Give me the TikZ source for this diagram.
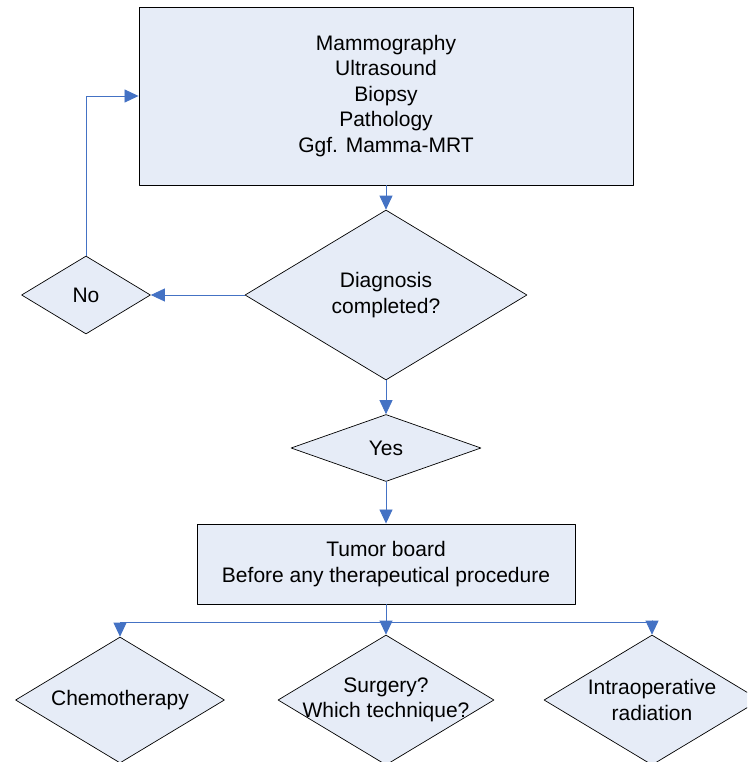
\documentclass[tikz,border=0pt]{standalone}
\usepackage{fontspec}
\setmainfont{Liberation Sans}
\usetikzlibrary{arrows.meta,shapes.geometric}
\definecolor{ebeff8}{rgb}{0.902,0.925,0.969}
\definecolor{qqwwcc}{rgb}{0.267,0.447,0.769}

\begin{document}
\begin{tikzpicture}[line cap=round,line join=round,>={Triangle[length=14pt,width=13pt]},x=1pt,y=-1pt,
  box/.style={draw=black,line width=0.9pt,fill=ebeff8,inner sep=0pt},
  dia/.style={diamond,draw=black,line width=0.7pt,fill=ebeff8,inner sep=0pt},
  txt/.style={align=center,font=\fontsize{21}{25.5}\selectfont},
  flow/.style={->,draw=qqwwcc,line width=0.8pt}]
\clip (0,0) rectangle (747,762);
\useasboundingbox (0,0) rectangle (747,762);
\node[box,txt,minimum width=494pt,minimum height=178pt] (exam) at (386,96) {Mammography\\Ultrasound\\Biopsy\\Pathology\\Ggf. Mamma-MRT};
\node[dia,minimum width=282pt,minimum height=170pt] (diag) at (386,295) {};
\node[txt] (diagtxt) at (diag) {Diagnosis\\completed?};
\node[dia,minimum width=129pt,minimum height=78pt] (no) at (86,295) {};
\node[txt] (notxt) at (no) {No};
\node[dia,minimum width=190pt,minimum height=67pt] (yes) at (386,448) {};
\node[txt] (yestxt) at (yes) {Yes};
\node[box,txt,minimum width=378pt,minimum height=80pt] (board) at (386,564) {Tumor board\\Before any therapeutical procedure};
\node[dia,minimum width=209pt,minimum height=126pt] (chemo) at (120,700) {};
\node[txt] (chemotxt) at (chemo) {Chemotherapy};
\node[dia,minimum width=216pt,minimum height=130pt] (surg) at (386,700) {};
\node[txt] (surgtxt) at (surg) {Surgery?\\Which technique?};
\node[dia,minimum width=216pt,minimum height=130pt] (intra) at (652,700) {};
\node[txt] (intratxt) at (intra) {Intraoperative\\radiation};
\coordinate (bus) at (386,622);
\draw[flow] (exam) -- (diag);
\draw[flow] (diag) -- (no);
\draw[flow] (no.north) |- (exam.west);
\draw[flow] (diag) -- (yes);
\draw[flow] (yes) -- (board);
\draw[flow] (board) -- (surg);
\draw[flow] (bus) -| (chemo.north);
\draw[flow] (bus) -| (intra.north);
\end{tikzpicture}
\end{document}
